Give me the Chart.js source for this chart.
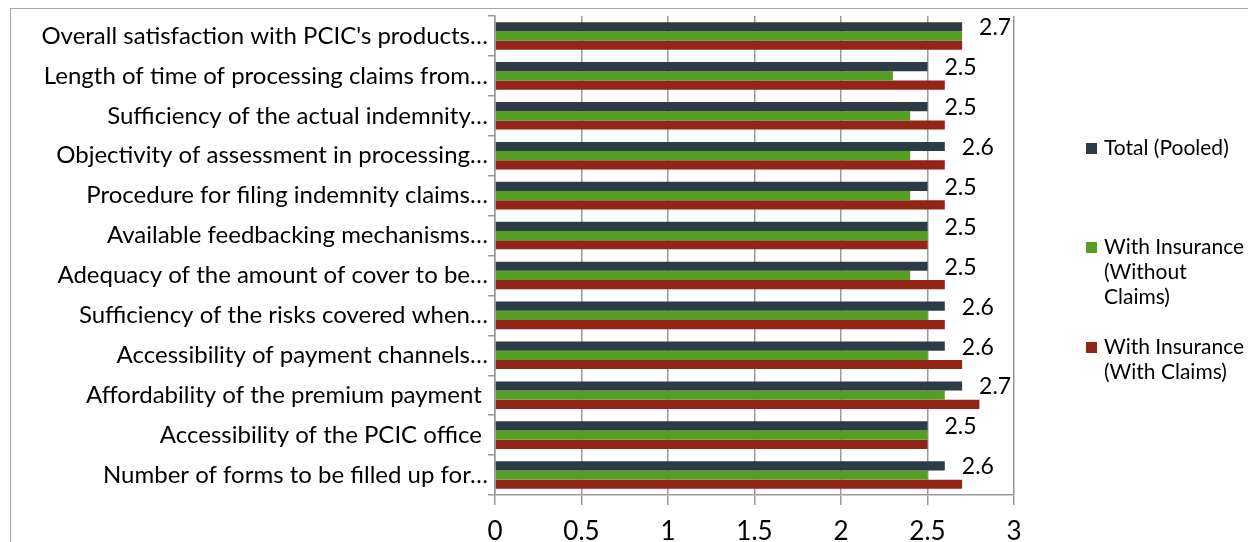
<!DOCTYPE html>
<html>
<head>
<meta charset="utf-8">
<script src="https://cdn.jsdelivr.net/npm/chart.js@4"></script>
<style>
  html, body { margin: 0; padding: 0; background: #fff; }
  #wrap { position: relative; width: 1248px; height: 542px; overflow: hidden; }
</style>
</head>
<body>
<div id="wrap"><canvas id="chart" width="1248" height="542"></canvas></div>
<script>
// categories, top to bottom
const categories = [
  "Overall satisfaction with PCIC's products…",
  "Length of time of processing claims from…",
  "Sufficiency of the actual indemnity…",
  "Objectivity of assessment in processing…",
  "Procedure for filing indemnity claims…",
  "Available feedbacking mechanisms…",
  "Adequacy of the amount of cover to be…",
  "Sufficiency of the risks covered when…",
  "Accessibility of payment channels…",
  "Affordability of the premium payment ",
  "Accessibility of the PCIC office ",
  "Number of forms to be filled up for…"
];

const totalPooled     = [2.7, 2.5, 2.5, 2.6, 2.5, 2.5, 2.5, 2.6, 2.6, 2.7, 2.5, 2.6];
const withoutClaims   = [2.7, 2.3, 2.4, 2.4, 2.4, 2.5, 2.4, 2.5, 2.5, 2.6, 2.5, 2.5];
const withClaims      = [2.7, 2.6, 2.6, 2.6, 2.6, 2.5, 2.6, 2.6, 2.7, 2.8, 2.5, 2.7];

const seriesNames  = ['Total (Pooled)', 'With Insurance (Without Claims)', 'With Insurance (With Claims)'];
const legendLines  = [['Total (Pooled)'], ['With Insurance', '(Without', 'Claims)'], ['With Insurance', '(With Claims)']];
const seriesColors = ['#2c3b44', '#55a024', '#922418'];

const xTicks = [0, 0.5, 1, 1.5, 2, 2.5, 3];

const FONT = 'Lato, "Noto Sans", sans-serif';
const GRID = '#9a9a9a';

// labels only on the pooled series
const valueLabels = {
  id: 'valueLabels',
  afterDatasetsDraw(chart) {
    const ctx = chart.ctx;
    const meta = chart.getDatasetMeta(0);
    ctx.save();
    ctx.font = '23px ' + FONT;
    ctx.fillStyle = '#000';
    ctx.textAlign = 'left';
    ctx.textBaseline = 'middle';
    meta.data.forEach((bar, i) => {
      ctx.fillText(totalPooled[i].toFixed(1), bar.x + 17, bar.y + 1);
    });
    ctx.restore();
  }
};

// outer frame + legend on the right
const frameAndLegend = {
  id: 'frameAndLegend',
  beforeDraw(chart) {
    const ctx = chart.ctx;
    ctx.save();
    ctx.strokeStyle = '#a6a6a6';
    ctx.lineWidth = 1;
    ctx.strokeRect(10.5, 8.5, 1400, 700);
    ctx.restore();
  },
  afterDraw(chart) {
    const ctx = chart.ctx;
    const tops = [148, 247, 347];
    ctx.save();
    ctx.font = '21px ' + FONT;
    ctx.textAlign = 'left';
    ctx.textBaseline = 'middle';
    legendLines.forEach((lines, i) => {
      ctx.fillStyle = seriesColors[i];
      ctx.fillRect(1086, tops[i] - 5, 11, 11);
      ctx.fillStyle = '#000';
      lines.forEach((t, j) => ctx.fillText(t, 1104, tops[i] + j * 25));
    });
    ctx.restore();
  }
};

new Chart(document.getElementById('chart'), {
  type: 'bar',
  data: {
    labels: categories,
    datasets: [totalPooled, withoutClaims, withClaims].map((d, i) => ({
      label: seriesNames[i],
      data: d,
      backgroundColor: seriesColors[i],
      borderWidth: 0,
      categoryPercentage: 0.69,
      barPercentage: 1
    }))
  },
  options: {
    indexAxis: 'y',
    responsive: false,
    animation: false,
    layout: { padding: { top: 16, left: 0, right: 234, bottom: 0 } },
    plugins: { legend: { display: false }, tooltip: { enabled: false } },
    scales: {
      x: {
        min: 0, max: 3,
        afterBuildTicks(s) { s.ticks = xTicks.map(v => ({ value: v })); },
        afterFit(s) { s.height = 47; },
        grid: { color: GRID, lineWidth: 1.5, tickLength: 10 },
        border: { color: GRID, width: 1.5 },
        ticks: {
          color: '#000', font: { family: FONT, size: 26 }, padding: 11,
          callback: v => String(v)
        }
      },
      y: {
        afterFit(s) { s.width = 495; },
        grid: { drawOnChartArea: false, color: GRID, lineWidth: 1.5, tickLength: 7 },
        border: { color: GRID, width: 1.5 },
        ticks: { color: '#000', font: { family: FONT, size: 24 }, padding: 0, autoSkip: false }
      }
    }
  },
  plugins: [valueLabels, frameAndLegend]
});
</script>
</body>
</html>
